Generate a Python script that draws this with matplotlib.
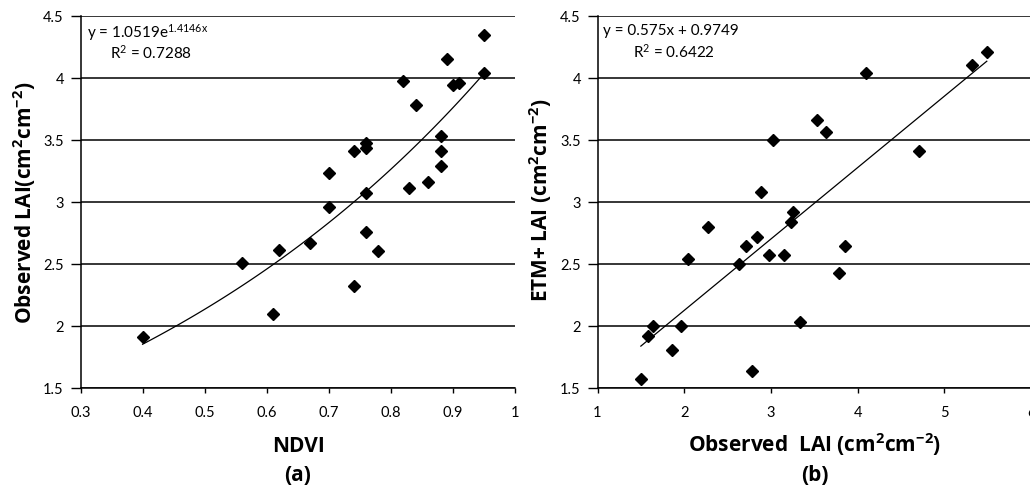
import matplotlib
matplotlib.use('Agg')
import matplotlib.pyplot as plt
import numpy as np

plt.rcParams['font.family'] = ['Lato', 'DejaVu Sans']
plt.rcParams['mathtext.default'] = 'regular'

# panel (a): NDVI vs observed LAI
ndvi = [0.40, 0.56, 0.61, 0.62, 0.67, 0.70, 0.70, 0.74, 0.74, 0.76, 0.76, 0.76,
        0.76, 0.78, 0.82, 0.83, 0.84, 0.86, 0.88, 0.88, 0.88, 0.89, 0.90, 0.91,
        0.95, 0.95]
lai_obs_a = [1.91, 2.51, 2.10, 2.61, 2.67, 3.23, 2.96, 3.41, 2.32, 3.47, 3.43, 3.07,
             2.76, 2.60, 3.97, 3.11, 3.78, 3.16, 3.53, 3.41, 3.29, 4.15, 3.94, 3.96,
             4.34, 4.04]

# panel (b): observed LAI vs ETM+ LAI
lai_obs_b = [1.50, 1.58, 1.64, 1.86, 1.96, 2.04, 2.28, 2.63, 2.71, 2.78, 2.84, 2.89,
             2.98, 3.02, 3.15, 3.23, 3.25, 3.34, 3.53, 3.64, 3.79, 3.86, 4.10, 4.71,
             5.32, 5.49]
lai_etm = [1.57, 1.92, 2.00, 1.81, 2.00, 2.54, 2.80, 2.50, 2.64, 1.64, 2.72, 3.08,
           2.57, 3.50, 2.57, 2.84, 2.92, 2.03, 3.66, 3.56, 2.43, 2.64, 4.04, 3.41,
           4.10, 4.21]

y_ticks = [1.5, 2, 2.5, 3, 3.5, 4, 4.5]
y_labels = ['1.5', '2', '2.5', '3', '3.5', '4', '4.5']

W, H = 1030, 489
fig = plt.figure(figsize=(W / 100, H / 100), dpi=100)
ax1 = fig.add_axes([80.5 / W, 1 - 389 / H, (515 - 80.5) / W, (389 - 16.5) / H])
ax2 = fig.add_axes([597.5 / W, 1 - 389 / H, (1031 - 597.5) / W, (389 - 16.5) / H])

lab = dict(family=['Open Sans', 'DejaVu Sans'], fontsize=15, fontweight='bold')


def px(x, y):
    return x / W, 1 - y / H


def style(ax):
    ax.set_ylim(1.5, 4.5)
    ax.set_yticks(y_ticks)
    ax.set_yticklabels(y_labels)
    ax.yaxis.grid(True, color='black', linewidth=1.1)
    ax.set_axisbelow(True)
    for s in ['top', 'right']:
        ax.spines[s].set_visible(False)
    ax.spines['left'].set_linewidth(1.1)
    ax.spines['bottom'].set_linewidth(1.1)
    ax.tick_params(axis='y', direction='out', length=7, width=1.0, labelsize=10.5, pad=5)
    ax.tick_params(axis='x', direction='out', length=3.5, width=1.0, labelsize=10.5, pad=8.5)


# (a)
ax1.plot(ndvi, lai_obs_a, 'D', color='black', markersize=6)
xf = np.linspace(min(ndvi), max(ndvi), 100)
ax1.plot(xf, 1.0519 * np.exp(1.4146 * xf), color='black', linewidth=0.9)
ax1.set_xlim(0.3, 1.0)
ax1.set_xticks([0.3, 0.4, 0.5, 0.6, 0.7, 0.8, 0.9, 1.0])
ax1.set_xticklabels(['0.3', '0.4', '0.5', '0.6', '0.7', '0.8', '0.9', '1'])
style(ax1)
fig.text(*px(87, 33), 'y = 1.0519e$^{1.4146x}$', fontsize=11, va='center')
fig.text(*px(110, 53), 'R$^2$ = 0.7288', fontsize=11, va='center')
fig.text(*px(32, 202.5), 'Observed LAI(cm$^2$cm$^{-2}$)', rotation=90,
         rotation_mode='anchor', ha='center', va='baseline', **lab)
fig.text(*px(298, 452), 'NDVI', ha='center', va='baseline', **lab)
fig.text(*px(298, 481), '(a)', ha='center', va='baseline', **lab)

# (b)
ax2.plot(lai_obs_b, lai_etm, 'D', color='black', markersize=6)
xl = np.array([min(lai_obs_b), max(lai_obs_b)])
ax2.plot(xl, 0.575 * xl + 0.9749, color='black', linewidth=0.9)
ax2.set_xlim(1, 6)
ax2.set_xticks([1, 2, 3, 4, 5, 6])
style(ax2)
fig.text(*px(603, 31), 'y = 0.575x + 0.9749', fontsize=11, va='center')
fig.text(*px(633, 52), 'R$^2$ = 0.6422', fontsize=11, va='center')
fig.text(*px(548, 200), 'ETM+ LAI (cm$^2$cm$^{-2}$)', rotation=90,
         rotation_mode='anchor', ha='center', va='baseline', **lab)
fig.text(*px(815, 452), 'Observed  LAI (cm$^2$cm$^{-2}$)', ha='center', va='baseline', **lab)
fig.text(*px(815, 481), '(b)', ha='center', va='baseline', **lab)

fig.savefig('out.png', dpi=100)
